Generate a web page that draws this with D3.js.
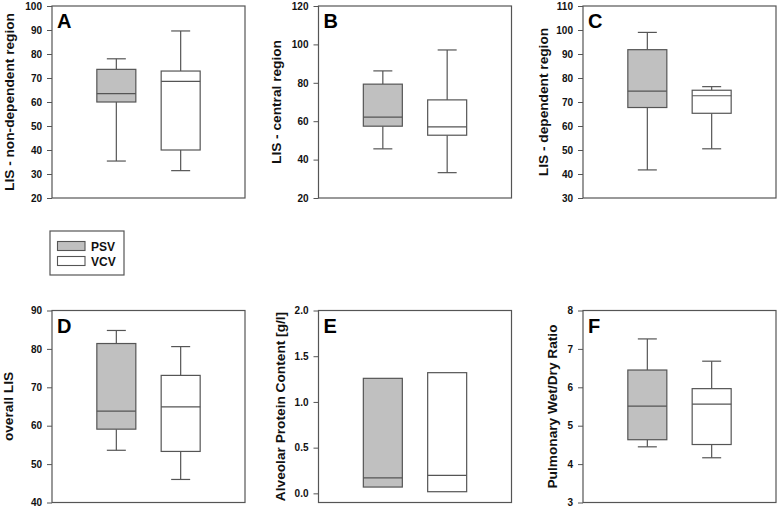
<!DOCTYPE html>
<html><head><meta charset="utf-8">
<script src="https://cdn.jsdelivr.net/npm/d3@7/dist/d3.min.js"></script>
<style>body{margin:0;background:#fff}svg{display:block;font-family:"Liberation Sans",Arial,sans-serif}</style>
</head><body><svg id="c" width="778" height="508"></svg>
<script>
const groups = ["PSV", "VCV"];
const panelLetters = ["A", "B", "C", "D", "E", "F"];
const yTitles = ["LIS - non-dependent region", "LIS - central region", "LIS - dependent region",
                 "overall LIS", "Alveolar Protein Content [g/l]", "Pulmonary Wet/Dry Ratio"];
const yDomains = [[20, 100], [20, 120], [30, 110], [40, 90], [-0.1, 2.0], [3, 8]];
const yTicks = [[20,30,40,50,60,70,80,90,100], [20,40,60,80,100,120], [30,40,50,60,70,80,90,100,110],
                [40,50,60,70,80,90], [0,0.5,1.0,1.5,2.0], [3,4,5,6,7,8]];
const tickFormats = ["d", "d", "d", "d", ".1f", "d"];
// [low whisker, Q1, median, Q3, high whisker] for PSV, VCV
const statsA = [[35.4, 60.0, 63.5, 73.6, 78.0], [31.4, 40.0, 68.6, 72.9, 89.6]];
const statsB = [[45.6, 57.4, 62.1, 79.3, 86.2], [33.2, 52.7, 57.0, 71.1, 97.1]];
const statsC = [[41.7, 67.7, 74.5, 91.8, 99.0], [50.5, 65.3, 72.6, 74.9, 76.4]];
const statsD = [[53.6, 59.1, 63.8, 81.4, 84.8], [46.0, 53.3, 64.9, 73.1, 80.6]];
const statsE = [[0.069, 0.069, 0.17, 1.258, 1.258], [0.018, 0.018, 0.197, 1.32, 1.32]];
const statsF = [[4.45, 4.635, 5.51, 6.45, 7.26], [4.165, 4.51, 5.56, 5.965, 6.68]];
const allStats = [statsA, statsB, statsC, statsD, statsE, statsF];
const fills = ["#c0c0c0", "#ffffff"];

const svg = d3.select("#c");
const stroke = "#555";
const frameW = 193, frameH = 192;
const lefts = [52, 318.5, 583, 52, 318.5, 583];
const tops = [6, 6, 6, 310.5, 310.5, 310.5];
const titleOff = [43, 42, 40, 44, 38, 31];
const boxW = 39, capW = 19;

allStats.forEach((stats, i) => {
  const g = svg.append("g").attr("transform", `translate(${lefts[i]},${tops[i]})`);
  const y = d3.scaleLinear().domain(yDomains[i]).range([frameH, 0]);
  const x = d3.scalePoint().domain(groups).range([0, frameW]).padding(1);

  const ax = g.append("g").call(d3.axisLeft(y).tickValues(yTicks[i]).tickFormat(d3.format(tickFormats[i])).tickSize(5).tickPadding(5));
  ax.select(".domain").remove();
  ax.selectAll("line").attr("stroke", stroke);
  ax.selectAll("text").attr("font-size", 10).attr("font-weight", "bold").attr("fill", "#111")
    .attr("font-family", "Liberation Sans, Arial, sans-serif");

  g.append("rect").attr("x", 0).attr("y", 0).attr("width", frameW).attr("height", frameH)
    .attr("fill", "none").attr("stroke", stroke).attr("stroke-width", 1.2);

  stats.forEach((s, k) => {
    const cx = x(groups[k]);
    const bg = g.append("g").attr("stroke", stroke).attr("stroke-width", 1.2);
    bg.append("line").attr("x1", cx).attr("x2", cx).attr("y1", y(s[4])).attr("y2", y(s[3]));
    bg.append("line").attr("x1", cx).attr("x2", cx).attr("y1", y(s[1])).attr("y2", y(s[0]));
    if (s[4] > s[3]) bg.append("line").attr("x1", cx - capW/2).attr("x2", cx + capW/2).attr("y1", y(s[4])).attr("y2", y(s[4]));
    if (s[0] < s[1]) bg.append("line").attr("x1", cx - capW/2).attr("x2", cx + capW/2).attr("y1", y(s[0])).attr("y2", y(s[0]));
    bg.append("rect").attr("x", cx - boxW/2).attr("y", y(s[3])).attr("width", boxW).attr("height", y(s[1]) - y(s[3]))
      .attr("fill", fills[k]);
    bg.append("line").attr("x1", cx - boxW/2).attr("x2", cx + boxW/2).attr("y1", y(s[2])).attr("y2", y(s[2]));
  });

  g.append("text").attr("x", 5).attr("y", 22).attr("font-size", 20).attr("font-weight", "bold")
    .attr("fill", "#000").text(panelLetters[i]);

  g.append("text").attr("transform", `translate(${-titleOff[i]},${frameH/2}) rotate(-90)`)
    .attr("text-anchor", "middle").attr("dy", "0.35em").attr("font-size", 13.7).attr("font-weight", "bold")
    .attr("fill", "#111").text(yTitles[i]);
});

// legend
const lg = svg.append("g").attr("transform", "translate(50,231)");
lg.append("rect").attr("width", 74).attr("height", 44).attr("fill", "#fff").attr("stroke", stroke).attr("stroke-width", 1.2);
groups.forEach((gname, k) => {
  lg.append("rect").attr("x", 7.5).attr("y", 10.5 + k * 15).attr("width", 27.5).attr("height", 9)
    .attr("fill", fills[k]).attr("stroke", stroke).attr("stroke-width", 1.1);
  lg.append("text").attr("x", 41).attr("y", 19.5 + k * 15).attr("font-size", 12).attr("font-weight", "bold")
    .attr("fill", "#111").text(gname);
});
</script></body></html>
